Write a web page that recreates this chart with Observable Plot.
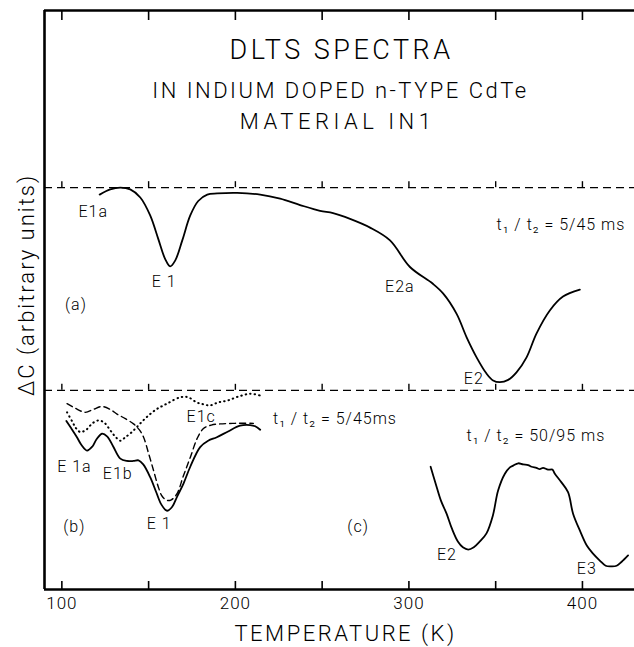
<!DOCTYPE html>
<html><head><meta charset="utf-8">
<script src="https://cdn.jsdelivr.net/npm/d3@7"></script>
<script src="https://cdn.jsdelivr.net/npm/@observablehq/plot@0.6"></script>
<style>
body{margin:0;background:#fff}
#chart svg{display:block}
#chart svg text{letter-spacing:1px}
</style>
</head><body><div id="chart"></div>
<script>
// Curve (a): t1/t2 = 5/45 ms
const aT = [121.8,127.9,133.7,139.4,145.2,150.9,155.5,159.5,162.4,165.3,169.4,174.0,178.6,183.8,189.5,201.0,214.3,225.8,237.3,248.8,256.3,266.1,277.6,289.1,300.6,313.8,319.8,327.5,333.2,339.0,344.7,348.5,352.4,357.2,362.0,367.8,373.5,381.2,388.8,398.5];
const aC = [68.2,69.1,69.4,69.1,67.7,64.6,60.6,57.1,55.8,56.8,60.3,64.6,67.1,68.2,68.4,68.5,68.2,67.5,66.4,65.4,65.0,64.0,62.5,60.3,55.7,52.8,51.1,47.6,43.6,40.1,37.3,36.1,35.8,36.2,37.5,40.1,44.2,48.2,50.6,51.8];
// Curve (b) solid
const bT = [102.6,105.5,108.7,111.2,114.5,117.6,119.9,123.1,126.2,129.6,133.7,137.5,141.2,144.2,146.9,150.9,154.4,157.3,160.6,163.6,166.5,170.1,174.0,179.7,184.3,189.3,195.8,202.7,208.5,211.4,214.3];
const bC = [29.1,27.8,26.3,25.0,24.0,24.7,25.9,26.9,26.4,24.7,22.6,22.2,22.2,22.3,21.6,19.4,16.8,14.7,13.6,14.3,16.1,18.3,21.2,24.6,25.7,26.3,27.3,28.3,28.4,28.2,27.6];
// Curve (b) dashed
const dT = [103.0,107.8,113.5,118.1,123.1,127.9,131.8,136.6,141.3,144.6,147.1,149.8,152.8,155.5,157.8,160.6,163.1,166.3,169.9,174.0,178.0,181.6,186.1,191.2,199.9,210.4];
const dC = [32.1,31.3,30.6,31.1,31.6,31.1,30.3,29.5,28.6,27.6,26.3,23.7,20.6,17.8,16.1,15.4,15.5,16.5,19.5,22.8,26.1,27.8,28.4,28.6,28.7,28.7];
// Curve (b) dotted
const pT = [103.0,106.0,108.3,110.7,114.1,117.6,121.2,124.5,127.9,130.8,133.7,136.6,140.4,144.6,149.0,154.4,160.6,168.2,172.8,177.8,181.4,185.4,190.0,195.1,201.6,208.5,214.3];
const pC = [30.6,29.0,27.8,27.2,27.6,28.7,29.2,28.8,27.5,26.4,25.7,26.3,27.2,28.5,29.8,31.1,32.1,33.2,33.2,32.3,32.0,31.8,32.3,32.6,33.3,33.8,33.5];
// Curve (c): t1/t2 = 50/95 ms
const cT = [312.5,315.6,318.4,321.7,324.8,328.2,331.1,334.2,337.4,340.9,344.7,348.4,351.4,355.3,358.2,360.1,363.0,365.8,368.7,370.7,373.5,375.4,377.3,380.2,382.7,384.1,387.9,391.7,394.6,398.5,402.5,406.1,410.0,413.4,416.7,419.7,422.6,426.3];
const cC = [21.2,18.1,15.4,13.1,10.5,8.3,7.3,6.9,7.3,8.3,9.7,12.8,17.1,20.0,21.1,21.4,21.8,21.6,21.5,21.2,21.0,20.8,21.0,20.7,20.7,20.0,18.5,16.8,13.1,10.2,7.6,6.2,5.0,4.1,4.0,4.1,4.8,5.9];

// Zero lines (dashed) for the two panels
const baselines = [69.4, 34.4];
const yBottom = 0, yTop = 100;
const minorTicks = [100, 150, 200, 250, 300, 350, 400];
const majorTicks = [100, 200, 300, 400];

// Peak / panel annotations (centred)
const peakText = ["E1a","E 1","(a)","E2a","E2","E 1a","E1b","E1c","E 1","(b)","(c)","E2","E3"];
const peakT    = [118.1,159.0,108.1,294.8,337.4,107.2,132.2,180.3,156.1,107.2,270.7,321.9,402.5];
const peakC    = [65.3,53.1,49.1,52.2,36.3,21.1,20.0,29.8,11.3,10.9,10.8,5.9,3.6];
// Rate-window annotations (left-aligned)
const rateText = ["t\u2081 / t\u2082 = 5/45 ms","t\u2081 / t\u2082 = 5/45ms","t\u2081 / t\u2082 = 50/95 ms"];
const rateT    = [350.5,221.7,333.2];
const rateC    = [62.9,29.4,26.6];

const titleLines = ["DLTS SPECTRA", "IN INDIUM DOPED n-TYPE CdTe", "MATERIAL IN1"];
const xLabel = "TEMPERATURE (K)";
const yLabel = "\u0394C (arbitrary units)";

const zip = (T, C) => T.map((t, i) => ({T: t, C: C[i]}));
const peaks = peakText.map((text, i) => ({text, T: peakT[i], C: peakC[i]}));
const rates = rateText.map((text, i) => ({text, T: rateT[i], C: rateC[i]}));
const baseTicks = baselines.flatMap(b => minorTicks.map(t => ({T: t, C: b})));
const topTicks = minorTicks.map(t => ({T: t, C: yTop}));

const FONT = "Roboto, 'Liberation Sans', Arial, sans-serif";

const chart = Plot.plot({
  width: 634, height: 647,
  marginTop: 10, marginBottom: 58, marginLeft: 44, marginRight: 0,
  style: {fontFamily: FONT, background: "white", color: "black", fontWeight: 300},
  x: {domain: [90, 430], axis: null},
  y: {domain: [yBottom, yTop], axis: null},
  marks: [
    Plot.ruleY(baselines, {stroke: "black", strokeWidth: 1.2, strokeDasharray: "8,5"}),
    // small upward ticks sitting on the dashed zero lines
    Plot.ruleX(baseTicks, {x: "T", y1: "C", y2: "C", insetTop: -6, stroke: "black", strokeWidth: 1.4}),
    // inward ticks hanging from the top frame
    Plot.ruleX(topTicks, {x: "T", y1: "C", y2: "C", insetBottom: -10, stroke: "black", strokeWidth: 1.6}),
    Plot.line(zip(aT, aC), {x: "T", y: "C", curve: "catmull-rom", stroke: "black", strokeWidth: 1.8}),
    Plot.line(zip(bT, bC), {x: "T", y: "C", curve: "catmull-rom", stroke: "black", strokeWidth: 1.8}),
    Plot.line(zip(dT, dC), {x: "T", y: "C", curve: "catmull-rom", stroke: "black", strokeWidth: 1.4, strokeDasharray: "6,4"}),
    Plot.line(zip(pT, pC), {x: "T", y: "C", curve: "catmull-rom", stroke: "black", strokeWidth: 2, strokeDasharray: "0.5,4", strokeLinecap: "round"}),
    Plot.line(zip(cT, cC), {x: "T", y: "C", curve: "catmull-rom", stroke: "black", strokeWidth: 1.8}),
    Plot.axisX({anchor: "bottom", ticks: minorTicks, tickSize: -8, tickFormat: () => "", label: null, strokeWidth: 1.6}),
    Plot.axisX({anchor: "bottom", ticks: majorTicks, tickSize: 0, tickPadding: 7, label: null, fontSize: 17}),
    Plot.ruleX([90], {stroke: "black", strokeWidth: 2.6}),
    Plot.ruleY([yBottom], {stroke: "black", strokeWidth: 2.6}),
    Plot.ruleY([yTop], {stroke: "black", strokeWidth: 2.4}),
    Plot.text(peaks, {x: "T", y: "C", text: "text", fontSize: 16}),
    Plot.text(rates, {x: "T", y: "C", text: "text", textAnchor: "start", fontSize: 16}),
    Plot.text([titleLines[0]], {frameAnchor: "top", lineAnchor: "middle", textAnchor: "middle", dy: 40, dx: 2, fontSize: 27}),
    Plot.text([titleLines[1]], {frameAnchor: "top", lineAnchor: "middle", textAnchor: "middle", dy: 80, dx: 1, fontSize: 22}),
    Plot.text([titleLines[2]], {frameAnchor: "top", lineAnchor: "middle", textAnchor: "middle", dy: 111, dx: -2, fontSize: 22}),
    Plot.text([xLabel], {frameAnchor: "bottom", lineAnchor: "middle", textAnchor: "middle", dy: 44, dx: 6, fontSize: 22}),
    Plot.text([yLabel], {frameAnchor: "left", lineAnchor: "middle", textAnchor: "middle", rotate: -90, dx: -18, dy: -15, fontSize: 22})
  ]
});
document.getElementById("chart").appendChild(chart);

// Wider lettering, as in the hand-lettered original
const spacing = new Map([
  [titleLines[0], "3.5px"], [titleLines[1], "2.5px"], [titleLines[2], "4.5px"],
  [xLabel, "2.5px"], [yLabel, "2px"]
]);
d3.select(chart).selectAll("text").each(function() {
  const s = spacing.get(this.textContent);
  if (s) this.style.letterSpacing = s;
});
</script>
</body></html>
